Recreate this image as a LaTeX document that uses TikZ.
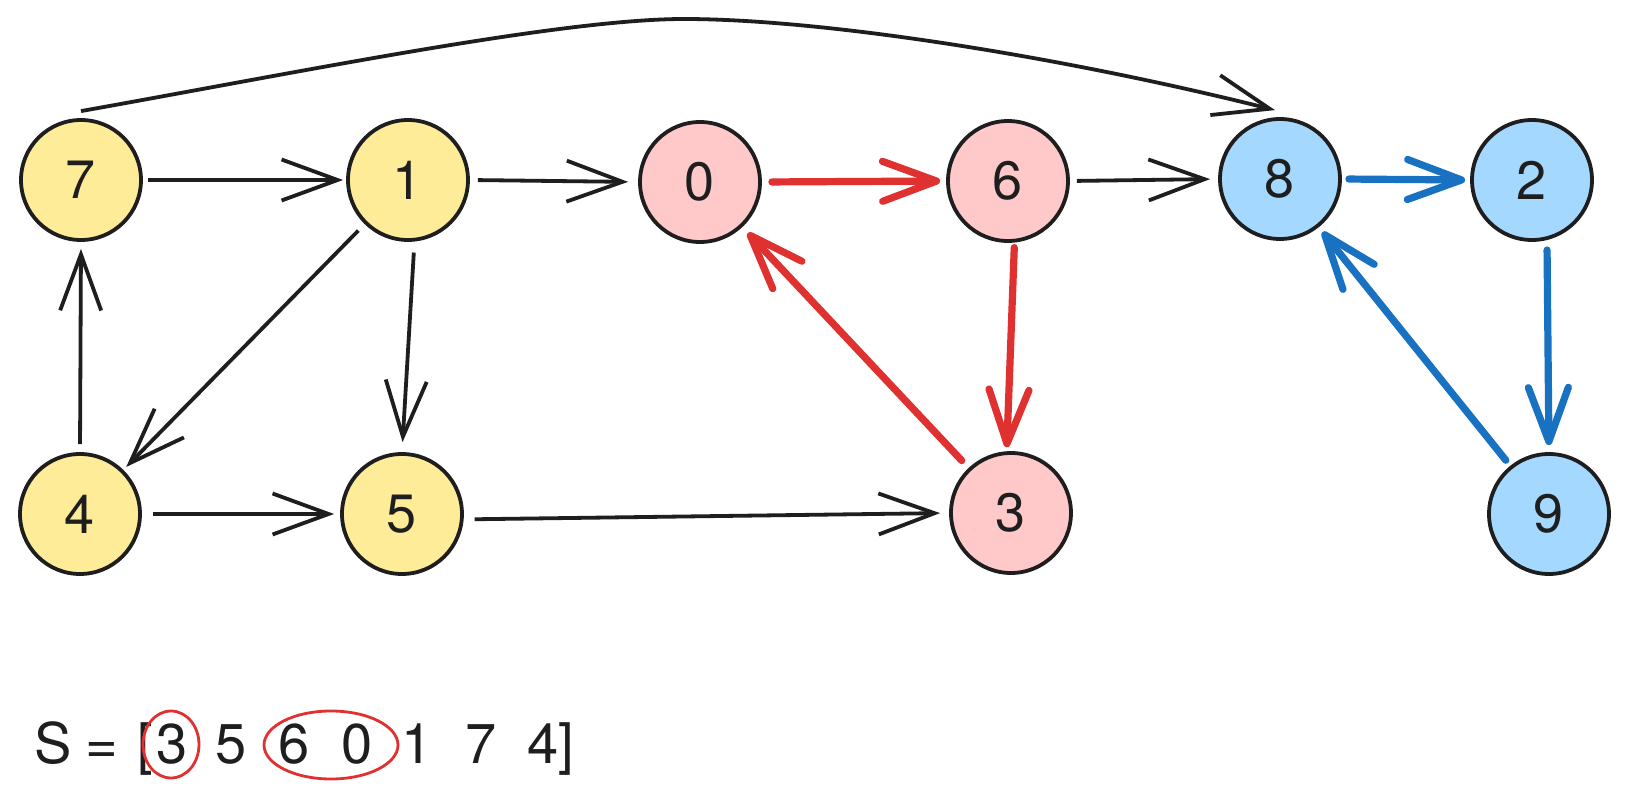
\documentclass[tikz,border=0pt]{standalone}
\usepackage{fontspec}
\setmainfont{TeX Gyre Heros}
\usetikzlibrary{arrows.meta,calc}
\definecolor{ink}{HTML}{1E1E1E}
\definecolor{yellowfill}{HTML}{FFEC99}
\definecolor{pinkfill}{HTML}{FFC9C9}
\definecolor{bluefill}{HTML}{A5D8FF}
\definecolor{redline}{HTML}{E03131}
\definecolor{blueline}{HTML}{1971C2}
\begin{document}
\begin{tikzpicture}[x=0.5pt,y=-0.5pt,
  vert/.style={circle,draw=ink,line width=1.9pt,minimum size=60pt,inner sep=0pt,
    font=\fontsize{27}{27}\selectfont,text=ink},
  yel/.style={vert,fill=yellowfill},
  pnk/.style={vert,fill=pinkfill},
  blu/.style={vert,fill=bluefill},
  blk/.style={draw=ink,line width=1.9pt,-{Straight Barb[length=28pt,width=20.5pt]}},
  redE/.style={draw=redline,line width=3.6pt,line cap=round,-{Straight Barb[length=27pt,width=20pt,round]}},
  bluE/.style={draw=blueline,line width=3.6pt,line cap=round,-{Straight Barb[length=27pt,width=20pt,round]}},
  txt/.style={anchor=base,font=\fontsize{28}{28}\selectfont,text=ink,inner sep=0pt},
  ring/.style={draw=redline,line width=1.4pt}
]
\useasboundingbox (0,0) rectangle (1630,797);
\fill[white] (0,0) rectangle (1630,797);

\node[yel] (n7) at (81,180) {7};
\node[yel] (n1) at (408,180) {1};
\node[pnk] (n0) at (700,182) {0};
\node[pnk] (n6) at (1008,181) {6};
\node[blu] (n8) at (1280,179) {8};
\node[blu] (n2) at (1532,180) {2};
\node[yel] (n4) at (80,514) {4};
\node[yel] (n5) at (402,514) {5};
\node[pnk] (n3) at (1011,513) {3};
\node[blu] (n9) at (1549,514) {9};

\draw[blk,shorten <=2.5pt,shorten >=1.5pt] (n7.east) -- (n1.west);
\draw[blk,shorten <=4pt,shorten >=5pt] (n1.east) -- (n0.west);
\draw[redE,shorten <=5pt,shorten >=3pt] (n0.east) -- (n6.west);
\draw[blk,shorten <=3.5pt,shorten >=4pt] (n6.east) -- (n8.west);
\draw[bluE,shorten <=3.5pt,shorten >=2.5pt] (n8.east) -- (n2.west);
\draw[bluE,shorten <=5pt,shorten >=3.5pt] (n2.-76) -- (n9.north);
\draw[bluE,shorten <=3.5pt,shorten >=3pt] (n9) -- (n8);
\draw[redE,shorten <=2.5pt,shorten >=2pt] (n6.-84) -- (n3.94);
\draw[redE,shorten <=5pt,shorten >=4pt] (n3) -- (n0);
\draw[blk,shorten <=4.5pt,shorten >=2pt] (n1) -- (n4);
\draw[blk,shorten <=5.5pt,shorten >=5pt] (n1.-84) -- (n5.north);
\draw[blk,shorten <=4pt,shorten >=3.5pt] (n4.north) -- (n7.south);
\draw[blk,shorten <=5.5pt,shorten >=3pt] (n4.east) -- (n5.west);
\draw[blk,shorten <=5.5pt,shorten >=4.5pt] (n5.-5) -- (n3.west);

\coordinate (topstart) at ($(n7.north)+(0,-7)$);
\coordinate (topend) at ($(n8.north)+(-5,-7)$);
\draw[blk] (topstart) .. controls (300,72) and (560,19) .. (684,19)
  .. controls (820,19) and (1055,55) .. (topend);

\node[txt] (s1) at (53,763) {S};
\node[txt] (s2) at (102,763) {=};
\node[txt] (s3) at (145,763) {[};
\node[txt] (s4) at (172,763) {3};
\node[txt] (s5) at (231.5,763) {5};
\node[txt] (s6) at (294,763) {6};
\node[txt] (s7) at (357,763) {0};
\node[txt] (s8) at (417,763) {1};
\node[txt] (s9) at (481,763) {7};
\node[txt,anchor=base west] (s10) at (527,763) {4]};

\draw[ring] (171,744.5) ellipse [x radius=28, y radius=33.5];
\draw[ring] (331,745) ellipse [x radius=67, y radius=34];
\end{tikzpicture}
\end{document}
